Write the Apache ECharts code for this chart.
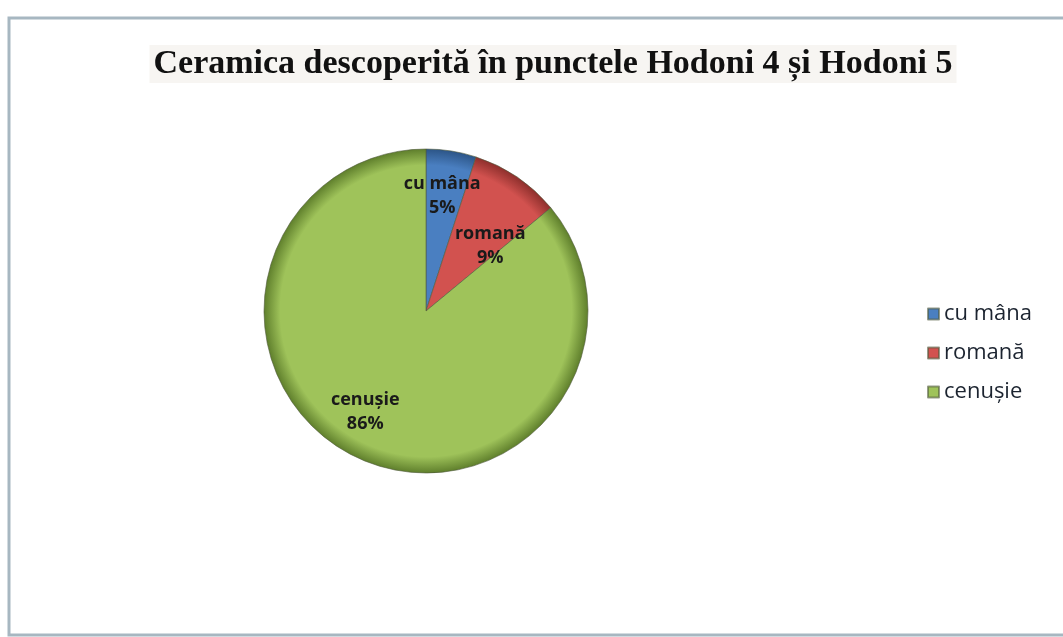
<!DOCTYPE html>
<html><head><meta charset="utf-8">
<script src="https://cdn.jsdelivr.net/npm/echarts@6/dist/echarts.min.js"></script>
<style>html,body{margin:0;padding:0;background:#fff}#c{width:1063px;height:637px}</style>
</head><body><div id="c"></div>
<script>
const titleText = 'Ceramica descoperită în punctele Hodoni 4 și Hodoni 5';
const categories = ['cu mâna', 'romană', 'cenușie'];
const values = [5, 9, 86];
const colors = ['#4a7fc1', '#d2524f', '#9fc35a'];
const edgeColors = ['#2c5587', '#8e2f2c', '#5f7f2c'];

const cx = 426, cy = 311, R = 162;
const chart = echarts.init(document.getElementById('c'));
const data = categories.map((n, i) => ({
  name: n, value: values[i],
  itemStyle: {
    color: { type: 'radial', x: cx, y: cy, r: R, global: true,
      colorStops: [{offset: 0, color: colors[i]}, {offset: 0.9, color: colors[i]}, {offset: 1, color: edgeColors[i]}] }
  }
}));
const labelOffsets = [[3, -32], [17, 4], [-25, 25]];
data.forEach((d, i) => { d.label = { offset: labelOffsets[i] }; });

chart.setOption({
  animation: false,
  backgroundColor: '#ffffff',
  graphic: [{ type: 'rect', shape: { x: 9, y: 18, width: 1060, height: 617 },
    style: { fill: 'none', stroke: '#a7b7c1', lineWidth: 3 } }],
  title: {
    text: titleText, left: 549, top: 45, textAlign: 'center',
    textStyle: { fontFamily: 'Liberation Serif', fontWeight: 'bold', fontSize: 34, color: '#111' },
    backgroundColor: '#f7f5f2', padding: [2, 4]
  },
  legend: {
    orient: 'vertical', left: 922, top: 298, itemGap: 17,
    itemWidth: 11, itemHeight: 11, icon: 'rect',
    textStyle: { fontFamily: 'Open Sans', fontSize: 22, color: '#1c2430' },
    data: categories.map((n, i) => ({ name: n, itemStyle: { color: colors[i] } }))
  },
  series: [{
    type: 'pie', center: [cx, cy], radius: R, startAngle: 90, clockwise: true,
    avoidLabelOverlap: false,
    data: data,
    itemStyle: { borderColor: 'rgba(80,90,60,0.6)', borderWidth: 1 },
    label: {
      show: true, position: 'inside', formatter: '{b}\n{d}%',
      fontFamily: 'Open Sans', fontWeight: 'bold', fontSize: 18, lineHeight: 24, color: '#1a1a1a'
    },
    labelLayout: { hideOverlap: false },
    labelLine: { show: false },
    emphasis: { disabled: true }
  }]
});
</script></body></html>
